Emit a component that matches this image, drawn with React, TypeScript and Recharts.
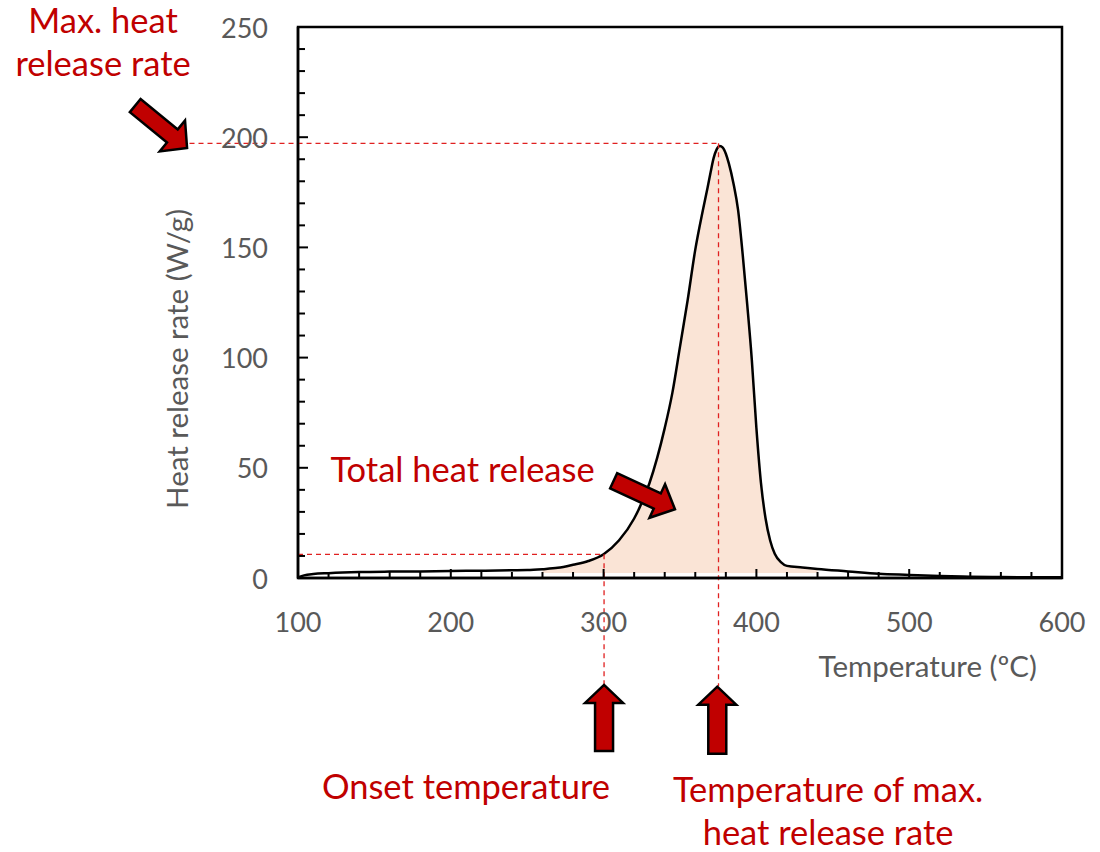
import React from 'react';
import {
  ComposedChart,
  Line,
  Area,
  XAxis,
  YAxis,
  ReferenceLine,
  ReferenceDot,
  ReferenceArea,
} from 'recharts';

// ---- data ----
const temperatures = [
  100, 104, 110, 120, 140, 160, 180, 200, 220, 240, 250, 260, 270, 280, 290,
  300, 310, 320, 330, 340, 345, 350, 355, 360, 365, 368, 370, 372, 374, 376,
  378, 380, 382, 385, 388, 391, 394, 397, 400, 403, 406, 409, 412, 416, 420,
  430, 440, 460, 480, 500, 520, 540, 560, 580, 600,
];
const heatReleaseRate = [
  0.3, 1.2, 1.8, 2.2, 2.7, 2.9, 3.0, 3.2, 3.3, 3.5, 3.6, 4.0, 4.6, 6.0, 7.7,
  10.8, 17, 27, 43, 68, 84, 105, 126, 149, 167, 177, 184, 190.5, 194.5, 196,
  195.3, 192.5, 188, 179, 167, 147, 124, 99, 68, 43, 27, 17, 11, 7.2, 5.5,
  4.8, 4.1, 3.0, 1.9, 1.4, 0.9, 0.6, 0.4, 0.3, 0.3,
];
const fillRange = [258, 442];
const fillBase = 2.3;

const xTicks = [
  100, 120, 140, 160, 180, 200, 220, 240, 260, 280, 300, 320, 340, 360, 380,
  400, 420, 440, 460, 480, 500, 520, 540, 560, 580, 600,
];
const xLabelTicks = [100, 200, 300, 400, 500, 600];
const yTicks = [
  0, 10, 20, 30, 40, 50, 60, 70, 80, 90, 100, 110, 120, 130, 140, 150, 160,
  170, 180, 190, 200, 210, 220, 230, 240, 250,
];
const yLabelTicks = [0, 50, 100, 150, 200, 250];

// key points
const onsetTemp = 300.3;
const onsetRate = 10.75;
const peakTemp = 375.2;
const peakRate = 197.2;

const data = temperatures.map((t, i) => ({
  t,
  hrr: heatReleaseRate[i],
  fill: t >= fillRange[0] && t <= fillRange[1] ? heatReleaseRate[i] : null,
}));

// ---- styles ----
const RED = '#C00000';
const DASH = '#E02020';
const GREY = '#595959';
const FONT = 'Lato, "Open Sans", sans-serif';
const ANN_SIZE = 34.5;
const TICK_SIZE = 27;
const TITLE_SIZE = 29.5;

const XTick = (props: any) => {
  const { x, y, payload } = props;
  const major = xLabelTicks.includes(payload.value);
  return (
    <g>
      <line x1={x} x2={x} y1={y} y2={y - (major ? 9 : 6)} stroke="#000" strokeWidth={2} />
      {major && (
        <text
          x={x}
          y={y + 43}
          textAnchor="middle"
          dominantBaseline="central"
          fill={GREY}
          fontSize={TICK_SIZE}
          fontFamily={FONT}
        >
          {payload.value}
        </text>
      )}
    </g>
  );
};

const YTick = (props: any) => {
  const { x, y, payload } = props;
  const major = yLabelTicks.includes(payload.value);
  return (
    <g>
      <line x1={x} x2={x + (major ? 10 : 7)} y1={y} y2={y} stroke="#000" strokeWidth={2} />
      {major && (
        <text
          x={x - 30}
          y={y}
          textAnchor="end"
          dominantBaseline="central"
          fill={GREY}
          fontSize={TICK_SIZE}
          fontFamily={FONT}
        >
          {payload.value}
        </text>
      )}
    </g>
  );
};

const makeArrow =
  (angleDeg: number, len: number, headLen: number, headW: number, shaftW: number) =>
  (props: any) => {
    const { cx, cy } = props;
    const pts = [
      [0, 0],
      [-headLen, headW / 2],
      [-headLen, shaftW / 2],
      [-len, shaftW / 2],
      [-len, -shaftW / 2],
      [-headLen, -shaftW / 2],
      [-headLen, -headW / 2],
    ];
    const a = (angleDeg * Math.PI) / 180;
    const s = pts
      .map(
        ([px, py]) =>
          `${cx + px * Math.cos(a) - py * Math.sin(a)},${cy + px * Math.sin(a) + py * Math.cos(a)}`
      )
      .join(' ');
    return <polygon points={s} fill={RED} stroke="#000" strokeWidth={2.5} strokeLinejoin="miter" />;
  };

const makeText =
  (lines: string[], size: number, color: string, anchor: string = 'middle', lineGap = 43) =>
  (props: any) => {
    const { cx, cy } = props;
    return (
      <text x={cx} y={cy} fill={color} fontSize={size} fontFamily={FONT} textAnchor={anchor}>
        {lines.map((l, i) => (
          <tspan key={i} x={cx} dy={i === 0 ? 0 : lineGap}>
            {l}
          </tspan>
        ))}
      </text>
    );
  };

const yTitleShape = (props: any) => {
  const { cx, cy } = props;
  return (
    <text
      x={cx}
      y={cy}
      fill={GREY}
      fontSize={TITLE_SIZE}
      fontFamily={FONT}
      textAnchor="middle"
      transform={`rotate(-90, ${cx}, ${cy})`}
    >
      Heat release rate (W/g)
    </text>
  );
};

export default function App() {
  return (
    <div style={{ position: 'absolute', left: 0, top: 0, width: 1100, height: 852, background: '#fff' }}>
      <ComposedChart
        width={1100}
        height={852}
        data={data}
        margin={{ top: 27, right: 38, left: 297, bottom: 273 }}
      >
        <Area
          dataKey="fill"
          type="monotone"
          fill="#FAE4D6"
          fillOpacity={1}
          stroke="none"
          baseValue={fillBase}
          isAnimationActive={false}
          dot={false}
          activeDot={false}
        />
        <Line
          dataKey="hrr"
          type="monotone"
          stroke="#000"
          strokeWidth={2.5}
          dot={false}
          activeDot={false}
          isAnimationActive={false}
        />
        <XAxis
          dataKey="t"
          type="number"
          domain={[100, 600]}
          ticks={xTicks}
          interval={0}
          height={1}
          tickSize={0}
          tickMargin={0}
          tickLine={false}
          axisLine={{ stroke: '#000', strokeWidth: 2.5 }}
          tick={XTick}
        />
        <YAxis
          type="number"
          domain={[0, 250]}
          ticks={yTicks}
          interval={0}
          width={1}
          tickSize={0}
          tickMargin={0}
          tickLine={false}
          axisLine={{ stroke: '#000', strokeWidth: 2.5 }}
          tick={YTick}
        />
        <ReferenceArea
          x1={100}
          x2={600}
          y1={0}
          y2={250}
          fill="none"
          fillOpacity={0}
          stroke="#000"
          strokeWidth={2.5}
          ifOverflow="visible"
        />
        {/* dashed guide lines */}
        <ReferenceLine
          segment={[{ x: 29, y: peakRate }, { x: peakTemp, y: peakRate }]}
          stroke={DASH}
          strokeDasharray="5 4"
          strokeWidth={1.3}
          ifOverflow="visible"
        />
        <ReferenceLine
          segment={[{ x: peakTemp, y: peakRate }, { x: peakTemp, y: -49 }]}
          stroke={DASH}
          strokeDasharray="5 4"
          strokeWidth={1.3}
          ifOverflow="visible"
        />
        <ReferenceLine
          segment={[{ x: 100, y: onsetRate }, { x: onsetTemp, y: onsetRate }]}
          stroke={DASH}
          strokeDasharray="5 4"
          strokeWidth={1.3}
          ifOverflow="visible"
        />
        <ReferenceLine
          segment={[{ x: onsetTemp, y: onsetRate }, { x: onsetTemp, y: -48.5 }]}
          stroke={DASH}
          strokeDasharray="5 4"
          strokeWidth={1.3}
          ifOverflow="visible"
        />
        {/* arrows */}
        <ReferenceDot x={27.4} y={195.1} ifOverflow="visible" shape={makeArrow(39.3, 67, 19, 40, 17)} />
        <ReferenceDot x={346.7} y={31.2} ifOverflow="visible" shape={makeArrow(24.9, 67.6, 19.5, 37, 16.7)} />
        <ReferenceDot x={onsetTemp} y={-48.5} ifOverflow="visible" shape={makeArrow(-90, 66, 18, 38, 18)} />
        <ReferenceDot x={374.4} y={-49.3} ifOverflow="visible" shape={makeArrow(-90, 67, 18, 38, 18)} />
        {/* annotations */}
        <ReferenceDot x={-27.6} y={247.1} ifOverflow="visible" shape={makeText(['Max. heat', 'release rate'], ANN_SIZE, RED)} />
        <ReferenceDot x={207.7} y={43.7} ifOverflow="visible" shape={makeText(['Total heat release'], ANN_SIZE, RED)} />
        <ReferenceDot x={209.9} y={-100.3} ifOverflow="visible" shape={makeText(['Onset temperature'], ANN_SIZE, RED)} />
        <ReferenceDot
          x={446.9}
          y={-101.6}
          ifOverflow="visible"
          shape={makeText(['Temperature of max.', 'heat release rate'], ANN_SIZE, RED)}
        />
        {/* axis titles */}
        <ReferenceDot x={583.6} y={-44.9} ifOverflow="visible" shape={makeText(['Temperature (ºC)'], TITLE_SIZE, GREY, 'end')} />
        <ReferenceDot x={28} y={99.4} ifOverflow="visible" shape={yTitleShape} />
      </ComposedChart>
    </div>
  );
}
